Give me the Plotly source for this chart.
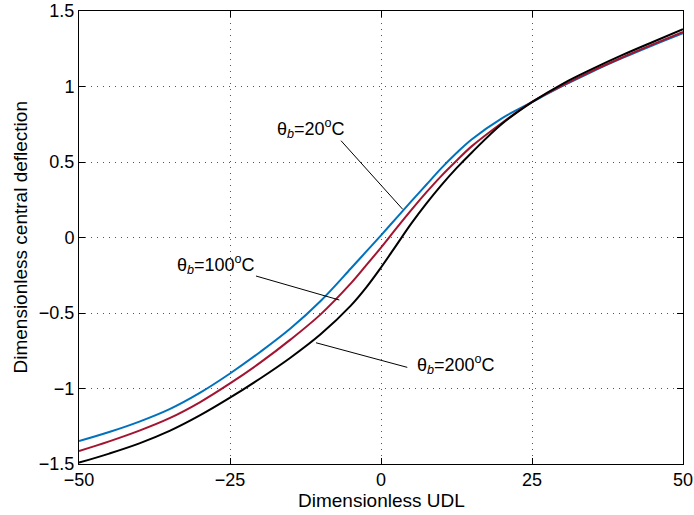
import plotly.graph_objects as go

# Data
udl = [-50, -45, -40, -35, -30, -25, -20, -15, -10, -5, -2.5, 0, 2.5, 5, 7.5, 10, 12.5, 15, 20, 25, 30, 35, 40, 45, 50]
defl_20 = [-1.348, -1.288, -1.219, -1.1365, -1.029, -0.9005, -0.758, -0.603, -0.4205, -0.2055, -0.0955, 0.0145,
           0.127, 0.2395, 0.3495, 0.4595, 0.5595, 0.6495, 0.7895, 0.897, 1.002, 1.0995, 1.1895, 1.2735, 1.3535]
defl_100 = [-1.414, -1.35, -1.279, -1.1965, -1.0915, -0.9665, -0.829, -0.6765, -0.509, -0.304, -0.1865, -0.0665,
            0.0585, 0.181, 0.2985, 0.4085, 0.5085, 0.6035, 0.7585, 0.8985, 1.006, 1.1035, 1.1935, 1.2785, 1.361]
defl_200 = [-1.491, -1.431, -1.3635, -1.281, -1.1785, -1.061, -0.9335, -0.796, -0.641, -0.451, -0.3335, -0.1985,
            -0.0535, 0.0915, 0.224, 0.3465, 0.459, 0.5615, 0.7515, 0.8965, 1.0165, 1.1165, 1.209, 1.295, 1.379]

x_ticks = [-50, -25, 0, 25, 50]
x_ticktext = ["\u221250", "\u221225", "0", "25", "50"]
y_ticks = [-1.5, -1, -0.5, 0, 0.5, 1, 1.5]
y_ticktext = ["\u22121.5", "\u22121", "\u22120.5", "0", "0.5", "1", "1.5"]
x_title = "Dimensionless UDL"
y_title = "Dimensionless central deflection"

# Labels: text, text position, leader line (start -> end)
labels = ["θ<sub><i>b</i></sub>=20<sup>o</sup>C",
          "θ<sub><i>b</i></sub>=100<sup>o</sup>C",
          "θ<sub><i>b</i></sub>=200<sup>o</sup>C"]
label_x = [-11.6, -27.3, 12.4]
label_y = [0.725, -0.182, -0.844]
lead_x0 = [-6.62, -20.7, 4.35]
lead_y0 = [0.641, -0.255, -0.860]
lead_x1 = [3.59, -6.90, -10.76]
lead_y1 = [0.187, -0.414, -0.697]

colors = ["#0072BD", "#A2142F", "#000000"]
FONT = "Liberation Sans, Arial, Helvetica, sans-serif"

fig = go.Figure()
for ys, c in zip([defl_20, defl_100, defl_200], colors):
    fig.add_trace(go.Scatter(x=udl, y=ys, mode="lines",
                             line=dict(color=c, width=2, shape="spline", smoothing=1.0),
                             showlegend=False, hoverinfo="skip"))

for i in range(3):
    fig.add_shape(type="line", xref="x", yref="y",
                  x0=lead_x0[i], y0=lead_y0[i], x1=lead_x1[i], y1=lead_y1[i],
                  line=dict(color="black", width=1))
    fig.add_annotation(x=label_x[i], y=label_y[i], xref="x", yref="y",
                       text=labels[i], showarrow=False,
                       font=dict(family=FONT, size=18, color="black"))

# axis titles as annotations (for exact placement)
fig.add_annotation(x=0, y=0.5, xref="paper", yref="paper", text=y_title,
                   textangle=-90, showarrow=False, xanchor="center", yanchor="middle",
                   xshift=-59, font=dict(family=FONT, size=19, color="black"))
fig.add_annotation(x=0.5, y=0, xref="paper", yref="paper", text=x_title,
                   showarrow=False, xanchor="center", yanchor="middle",
                   yshift=-36, font=dict(family=FONT, size=19, color="black"))

axis_common = dict(showline=True, linecolor="black", linewidth=1, mirror="ticks",
                   ticks="inside", ticklen=6, tickcolor="black",
                   showgrid=True, gridcolor="#555555", griddash="1px,5px", gridwidth=1,
                   zeroline=False, automargin=False,
                   tickfont=dict(family=FONT, size=18, color="black"))

fig.update_xaxes(range=[-50, 50], tickvals=x_ticks, ticktext=x_ticktext,
                 ticklabelstandoff=-1, **axis_common)
fig.update_yaxes(range=[-1.5, 1.5], tickvals=y_ticks, ticktext=y_ticktext,
                 **axis_common)

fig.update_layout(width=694, height=515,
                  margin=dict(l=79, r=11, t=11, b=51),
                  paper_bgcolor="white", plot_bgcolor="white",
                  font=dict(family=FONT, size=18, color="black"))

# remove the default page margin so the figure fills the window
fig.write_html("out.html", config={"displayModeBar": False},
               post_script="document.body.style.margin='0';document.body.style.overflow='hidden';")
